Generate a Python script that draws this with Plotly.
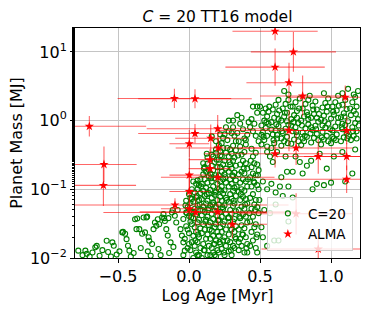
import plotly.graph_objects as go

# ---------------- model points (C=20) ----------------
tail_age = [-0.78, -0.75, -0.73, -0.72, -0.70, -0.68, -0.66, -0.65, -0.63, -0.61,
            -0.58, -0.57, -0.55, -0.54, -0.53, -0.51, -0.49, -0.47, -0.465, -0.45,
            -0.44, -0.43, -0.42, -0.41, -0.39, -0.38, -0.37, -0.365, -0.35, -0.34,
            -0.33, -0.32, -0.31, -0.30, -0.295, -0.29, -0.285, -0.28, -0.27, -0.26,
            -0.25, -0.24, -0.23, -0.22, -0.215, -0.21, -0.20, -0.19, -0.18, -0.175,
            -0.17, -0.16, -0.15, -0.145, -0.14, -0.13, -0.12, -0.115, -0.11, -0.10,
            -0.09, -0.08, -0.06, -0.05, -0.04, -0.03, -0.02, -0.025]
tail_mass = [0.0128, 0.011, 0.0128, 0.0115, 0.0105, 0.012, 0.0143, 0.015, 0.0108, 0.013,
             0.0178, 0.0122, 0.0105, 0.0169, 0.0151, 0.0112, 0.0125, 0.0236, 0.024, 0.0225,
             0.0188, 0.0151, 0.0128, 0.0105, 0.0118, 0.0367, 0.0263, 0.0376, 0.0263, 0.014,
             0.0225, 0.0389, 0.0236, 0.0389, 0.040, 0.0125, 0.020, 0.0178, 0.0108, 0.016,
             0.0263, 0.0329, 0.0294, 0.0367, 0.0135, 0.031, 0.011, 0.0389, 0.0435, 0.038,
             0.0346, 0.0263, 0.0212, 0.038, 0.0118, 0.0169, 0.0459, 0.050, 0.0145, 0.0412,
             0.0329, 0.050, 0.0263, 0.0212, 0.0169, 0.0128, 0.0459, 0.058]

low_age = [-0.04, -0.01, -0.03, 0.0, -0.02, 0.01, -0.04, 0.0, 0.02, -0.01,
           0.01, 0.02, -0.02, 0.0, 0.02, 0.01, 0.02, -0.01, 0.02,
           0.03, 0.05, 0.07, 0.04, 0.06, 0.08, 0.03, 0.05, 0.07, 0.04,
           0.06, 0.08, 0.03, 0.05, 0.07, 0.04, 0.06, 0.08, 0.03, 0.05,
           0.07, 0.04, 0.06, 0.08, 0.05, 0.07, 0.08, 0.06,
           0.09, 0.11, 0.13, 0.10, 0.12, 0.14, 0.09, 0.11, 0.13, 0.10,
           0.12, 0.14, 0.09, 0.11, 0.13, 0.10, 0.12, 0.14, 0.09, 0.11,
           0.13, 0.10, 0.12, 0.14, 0.09, 0.11, 0.13, 0.10, 0.12, 0.14,
           0.11, 0.13, 0.10, 0.125, 0.13,
           0.15, 0.17, 0.19, 0.16, 0.18, 0.20, 0.15, 0.17, 0.19, 0.16,
           0.18, 0.20, 0.15, 0.17, 0.19, 0.16, 0.18, 0.20, 0.15, 0.17,
           0.19, 0.16, 0.18, 0.20, 0.15, 0.17, 0.19, 0.16, 0.18, 0.20,
           0.15, 0.17, 0.19, 0.16, 0.18, 0.20, 0.17, 0.19, 0.16, 0.19,
           0.21, 0.23, 0.25, 0.22, 0.24, 0.26, 0.21, 0.23, 0.25, 0.22,
           0.24, 0.26, 0.21, 0.23, 0.25, 0.22, 0.24, 0.26, 0.21, 0.23,
           0.25, 0.22, 0.24, 0.26, 0.21, 0.23, 0.25, 0.22, 0.24, 0.26,
           0.21, 0.23, 0.25, 0.22, 0.24, 0.26, 0.21, 0.23, 0.25, 0.22,
           0.24, 0.26, 0.23, 0.21,
           0.28, 0.30, 0.32, 0.29, 0.31, 0.33, 0.28, 0.30, 0.32, 0.29,
           0.31, 0.33, 0.28, 0.30, 0.32, 0.29, 0.31, 0.33, 0.28, 0.30,
           0.32, 0.29, 0.31, 0.33, 0.28, 0.30, 0.32, 0.29, 0.31, 0.33,
           0.28, 0.30, 0.32, 0.29, 0.31, 0.33, 0.28, 0.30, 0.32, 0.29,
           0.31, 0.33,
           0.35, 0.37, 0.39, 0.41, 0.36, 0.38, 0.40, 0.35, 0.37, 0.39,
           0.41, 0.36, 0.38, 0.40, 0.35, 0.37, 0.39, 0.41, 0.36, 0.38,
           0.40, 0.35, 0.37, 0.39, 0.41, 0.36, 0.38, 0.40, 0.35, 0.37,
           0.39, 0.41, 0.36, 0.38, 0.40, 0.37, 0.39, 0.36, 0.40,
           0.43, 0.45, 0.47, 0.44, 0.46, 0.48, 0.43, 0.45, 0.47, 0.49,
           0.44, 0.46, 0.48, 0.43, 0.45, 0.47, 0.49, 0.44, 0.46, 0.48,
           0.43, 0.45, 0.47, 0.49, 0.44, 0.46, 0.48, 0.45, 0.47, 0.44]
low_mass = [0.011, 0.014, 0.019, 0.023, 0.029, 0.034, 0.037, 0.041, 0.047, 0.055,
            0.063, 0.072, 0.068, 0.085, 0.10, 0.013, 0.017, 0.026, 0.031,
            0.010, 0.012, 0.011, 0.015, 0.017, 0.014, 0.021, 0.024, 0.020, 0.028,
            0.033, 0.027, 0.038, 0.043, 0.036, 0.052, 0.058, 0.049, 0.066, 0.076,
            0.070, 0.090, 0.10, 0.088, 0.12, 0.115, 0.14, 0.135,
            0.010, 0.013, 0.011, 0.016, 0.019, 0.015, 0.023, 0.026, 0.022, 0.031,
            0.036, 0.030, 0.042, 0.047, 0.040, 0.056, 0.062, 0.053, 0.072, 0.080,
            0.068, 0.095, 0.105, 0.088, 0.12, 0.14, 0.125, 0.165, 0.18, 0.155,
            0.21, 0.235, 0.24, 0.33, 0.29,
            0.011, 0.012, 0.0105, 0.014, 0.016, 0.013, 0.019, 0.021, 0.018, 0.025,
            0.028, 0.024, 0.033, 0.037, 0.031, 0.044, 0.049, 0.041, 0.058, 0.064,
            0.055, 0.075, 0.083, 0.070, 0.098, 0.11, 0.092, 0.13, 0.145, 0.12,
            0.17, 0.19, 0.16, 0.22, 0.25, 0.21, 0.30, 0.34, 0.32, 0.38,
            0.012, 0.0135, 0.011, 0.016, 0.018, 0.015, 0.021, 0.024, 0.020, 0.028,
            0.031, 0.026, 0.036, 0.040, 0.034, 0.047, 0.052, 0.044, 0.060, 0.068,
            0.058, 0.078, 0.087, 0.075, 0.10, 0.11, 0.097, 0.13, 0.14, 0.125,
            0.16, 0.18, 0.165, 0.21, 0.23, 0.20, 0.27, 0.30, 0.26, 0.36,
            0.40, 0.34, 0.47, 0.44,
            0.0125, 0.011, 0.014, 0.017, 0.015, 0.019, 0.022, 0.026, 0.024, 0.030,
            0.034, 0.029, 0.039, 0.044, 0.037, 0.050, 0.057, 0.048, 0.066, 0.073,
            0.062, 0.085, 0.095, 0.080, 0.11, 0.12, 0.105, 0.14, 0.155, 0.135,
            0.18, 0.20, 0.175, 0.23, 0.26, 0.22, 0.30, 0.33, 0.29, 0.38,
            0.43, 0.37,
            0.013, 0.015, 0.012, 0.016, 0.019, 0.022, 0.020, 0.026, 0.030, 0.027,
            0.033, 0.038, 0.043, 0.040, 0.050, 0.056, 0.052, 0.062, 0.070, 0.078,
            0.072, 0.092, 0.10, 0.095, 0.11, 0.125, 0.14, 0.13, 0.165, 0.18,
            0.17, 0.20, 0.23, 0.26, 0.24, 0.32, 0.35, 0.42, 0.45,
            0.015, 0.018, 0.014, 0.024, 0.028, 0.022, 0.034, 0.040, 0.031, 0.045,
            0.052, 0.060, 0.055, 0.075, 0.085, 0.070, 0.10, 0.11, 0.125, 0.115,
            0.15, 0.17, 0.16, 0.19, 0.21, 0.24, 0.23, 0.30, 0.34, 0.39]

low_extra_age = [0.0, 0.015, 0.045, 0.065, 0.035, 0.075, 0.055, 0.085, 0.095, 0.105,
                 0.115, 0.125, 0.135, 0.105, 0.14, 0.145, 0.155, 0.165, 0.175, 0.185,
                 0.195, 0.205, 0.215, 0.225, 0.235, 0.245, 0.255, 0.265, 0.275, 0.285,
                 0.295, 0.305, 0.315, 0.325, 0.335, 0.345, 0.355, 0.365, 0.375, 0.385,
                 0.395, 0.405, 0.415, 0.425, 0.435, 0.455, 0.465, 0.475, 0.485, 0.495,
                 0.03, 0.01, -0.015, 0.06, 0.18, 0.27, 0.35, 0.41, 0.22, 0.27]
low_extra_mass = [0.016, 0.039, 0.018, 0.022, 0.047, 0.060, 0.080, 0.11, 0.050, 0.013,
                  0.034, 0.085, 0.050, 0.20, 0.19, 0.026, 0.145, 0.060, 0.016, 0.090,
                  0.27, 0.035, 0.017, 0.095, 0.055, 0.012, 0.15, 0.070, 0.038, 0.25,
                  0.013, 0.16, 0.068, 0.020, 0.11, 0.31, 0.040, 0.085, 0.022, 0.20,
                  0.060, 0.014, 0.14, 0.045, 0.26, 0.13, 0.050, 0.020, 0.16, 0.070,
                  0.13, 0.075, 0.045, 0.011, 0.011, 0.018, 0.017, 0.012, 0.31, 0.40]

bridge_age = [0.16, 0.19, 0.22, 0.25, 0.24, 0.27, 0.28, 0.30, 0.32, 0.34,
              0.31, 0.28, 0.31, 0.34, 0.36, 0.38, 0.39, 0.41, 0.43, 0.44,
              0.42, 0.45, 0.47, 0.46, 0.48, 0.45, 0.48, 0.50, 0.49, 0.40,
              0.35, 0.26, 0.37, 0.33]
bridge_mass = [0.59, 0.50, 0.63, 0.63, 0.56, 0.52, 0.70, 0.66, 0.60, 0.66,
               0.80, 1.00, 1.00, 1.20, 0.90, 0.75, 0.55, 0.62, 0.80, 1.05,
               0.95, 0.70, 0.60, 0.90, 1.30, 1.60, 1.60, 1.60, 0.50, 0.52,
               0.50, 0.80, 1.10, 0.50]

high_age = [0.51, 0.53, 0.55, 0.52, 0.54, 0.56, 0.51, 0.53, 0.55, 0.52, 0.54, 0.56, 0.51, 0.55,
            0.58, 0.60, 0.62, 0.59, 0.61, 0.63, 0.58, 0.60, 0.62, 0.59, 0.61, 0.63, 0.58, 0.62,
            0.65, 0.67, 0.69, 0.66, 0.68, 0.70, 0.65, 0.67, 0.69, 0.66, 0.68, 0.70, 0.67, 0.65, 0.69,
            0.72, 0.74, 0.76, 0.73, 0.75, 0.77, 0.72, 0.74, 0.76, 0.73, 0.75, 0.77, 0.72, 0.76,
            0.79, 0.81, 0.83, 0.80, 0.82, 0.84, 0.79, 0.81, 0.83, 0.80, 0.82, 0.84, 0.80, 0.84,
            0.86, 0.88, 0.90, 0.87, 0.89, 0.91, 0.86, 0.88, 0.90, 0.87, 0.89, 0.91, 0.86, 0.90,
            0.93, 0.95, 0.97, 0.94, 0.96, 0.98, 0.93, 0.95, 0.97, 0.94, 0.96, 0.98, 0.94, 0.98,
            1.00, 1.02, 1.04, 1.01, 1.03, 1.05, 1.00, 1.02, 1.04, 1.01, 1.03, 1.05, 1.01, 1.05,
            1.07, 1.09, 1.11, 1.08, 1.10, 1.12, 1.07, 1.09, 1.11, 1.08, 1.10, 1.12, 1.08, 1.12,
            1.14, 1.16, 1.18, 1.15, 1.17, 1.19, 1.14, 1.16, 1.18, 1.15, 1.17, 1.19, 1.16, 1.18]
high_mass = [0.45, 0.52, 0.60, 0.68, 0.78, 0.90, 0.85, 1.00, 1.15, 1.30, 1.50, 1.35, 0.62, 0.42,
             0.40, 0.47, 0.55, 0.63, 0.72, 0.83, 0.95, 1.10, 1.25, 1.45, 1.70, 1.05, 0.74, 0.62,
             0.43, 0.50, 0.58, 0.66, 0.76, 0.87, 1.00, 1.15, 1.30, 1.50, 1.75, 2.00, 2.70, 0.55, 0.98,
             0.46, 0.53, 0.61, 0.70, 0.80, 0.92, 1.05, 1.20, 1.38, 1.60, 1.85, 0.50, 0.85, 1.10,
             0.44, 0.50, 0.58, 0.67, 0.77, 0.88, 1.00, 1.15, 1.32, 1.50, 1.75, 2.00, 0.55, 1.05,
             0.48, 0.56, 0.64, 0.73, 0.84, 0.96, 1.10, 1.25, 1.45, 1.65, 1.90, 0.52, 0.80, 1.10,
             0.45, 0.53, 0.60, 0.69, 0.79, 0.90, 1.03, 1.18, 1.35, 1.55, 1.80, 2.10, 0.85, 0.50,
             0.47, 0.55, 0.63, 0.72, 0.82, 0.94, 1.07, 1.22, 1.40, 1.60, 1.85, 2.30, 0.58, 1.10,
             0.50, 0.57, 0.66, 0.75, 0.86, 0.98, 1.12, 1.28, 1.47, 1.70, 2.00, 2.90, 0.90, 0.60,
             0.52, 0.60, 0.70, 0.80, 0.92, 1.05, 1.20, 1.38, 1.60, 1.85, 2.20, 2.70, 2.40, 0.55]

high_extra_age = [0.525, 0.545, 0.565, 0.595, 0.615, 0.635, 0.655, 0.675, 0.695, 0.715,
                  0.735, 0.755, 0.775, 0.795, 0.815, 0.835, 0.855, 0.875, 0.895, 0.915,
                  0.935, 0.955, 0.975, 0.995, 1.015, 1.035, 1.055, 1.075, 1.095, 1.115,
                  1.135, 1.155, 1.175, 1.195, 0.70, 0.85, 0.95, 1.08, 0.78, 0.63]
high_extra_mass = [0.58, 0.95, 1.60, 0.52, 0.88, 1.40, 0.70, 1.30, 0.47, 1.60,
                   0.95, 0.68, 1.50, 0.85, 0.60, 1.20, 0.65, 1.45, 0.75, 1.25,
                   0.57, 0.98, 1.60, 0.75, 1.35, 0.52, 1.65, 0.80, 1.15, 0.55,
                   1.50, 0.70, 1.25, 0.85, 2.40, 2.30, 2.50, 2.50, 2.10, 2.00]

sparse_age = [0.52, 0.55, 0.58, 0.61, 0.64, 0.66, 0.70, 0.73, 0.59, 0.65,
              0.69, 0.80, 0.83, 0.86, 0.87, 0.90, 0.95, 1.00, 1.10, 1.15,
              0.53, 0.57, 0.61, 0.70, 0.48, 0.52, 0.55, 0.60, 0.63, 0.51,
              0.57, 0.62, 0.75, 0.78, 0.92, 1.02, 1.08, 0.97, 0.55, 0.68,
              0.73, 1.17]
sparse_mass = [0.13, 0.10, 0.12, 0.09, 0.11, 0.08, 0.11, 0.18, 0.25, 0.15,
               0.18, 0.17, 0.22, 0.26, 0.10, 0.12, 0.115, 0.125, 0.13, 0.17,
               0.05, 0.045, 0.06, 0.034, 0.012, 0.02, 0.015, 0.018, 0.018, 0.028,
               0.30, 0.35, 0.30, 0.25, 0.33, 0.30, 0.35, 0.20, 0.35, 0.30,
               0.076, 0.38]

# ---------------- ALMA points ----------------
alma_age = [0.606, 0.735, 0.606, 0.704, 0.80, 1.10, -0.103, 0.042, -0.702, 0.042,
            0.153, 0.002, 0.206, -0.599, -0.603, 0.148, 0.148, 0.002, 0.202, 0.002,
            -0.099, 0.002, 0.047, 0.202, 0.202, 0.704, 1.11, 0.754, 0.606, 0.91,
            1.11, 1.11, 0.305, 0.754, 0.91]
alma_mass = [20.0, 10.0, 6.0, 3.56, 2.28, 2.19, 2.1, 2.08, 0.826, 0.648,
             0.553, 0.46, 0.40, 0.23, 0.114, 0.27, 0.20, 0.161, 0.15, 0.093,
             0.059, 0.052, 0.046, 0.047, 0.76, 0.716, 0.716, 0.40, 0.33, 0.30,
             0.30, 0.14, 0.031, 0.044, 0.0135]
alma_age_err = [0.30, 0.30, 0.35, 0.30, 0.30, 0.40, 0.40, 0.40, 0.40, 0.40,
                0.25, 0.14, 0.30, 0.23, 0.23, 0.15, 0.15, 0.14, 0.40, 0.14,
                0.80, 0.20, 0.65, 0.55, 0.50, 0.50, 0.40, 0.40, 0.50, 0.30,
                0.30, 0.60, 0.25, 0.40, 0.40]
alma_mass_err_dex = [0.13, 0.29, 0.27, 0.29, 0.30, 0.17, 0.14, 0.14, 0.15, 0.14,
                     0.20, 0.20, 0.15, 0.26, 0.30, 0.15, 0.15, 0.25, 0.20, 0.20,
                     0.10, 0.15, 0.30, 0.20, 0.20, 0.30, 0.20, 0.25, 0.20, 0.25,
                     0.20, 0.20, 0.20, 0.30, 0.25]

# ---------------- tick labels ----------------
x_ticks = [-0.5, 0.0, 0.5, 1.0]
x_tick_labels = ["\u22120.5", "0.0", "0.5", "1.0"]
y_ticks = [0.01, 0.1, 1, 10]
y_tick_labels = ["10<sup>\u22122</sup>", "10<sup>\u22121</sup>", "10<sup>0</sup>", "10<sup>1</sup>"]

model_age = tail_age + low_age + low_extra_age + bridge_age + high_age + high_extra_age + sparse_age
model_mass = tail_mass + low_mass + low_extra_mass + bridge_mass + high_mass + high_extra_mass + sparse_mass

err_plus = [m * (10 ** d - 1) for m, d in zip(alma_mass, alma_mass_err_dex)]
err_minus = [m * (1 - 10 ** (-d)) for m, d in zip(alma_mass, alma_mass_err_dex)]

FONT = "DejaVu Sans"

fig = go.Figure()
fig.add_trace(go.Scatter(
    x=model_age, y=model_mass, mode="markers", name="C=20",
    marker=dict(symbol="circle-open", size=5, color="green", line=dict(width=1.1)),
))
fig.add_trace(go.Scatter(
    x=alma_age, y=alma_mass, mode="markers", name="ALMA",
    marker=dict(symbol="star", size=7, color="red"),
    error_x=dict(type="data", array=alma_age_err, color="rgba(255,0,0,0.6)",
                 thickness=1.1, width=0),
    error_y=dict(type="data", symmetric=False, array=err_plus, arrayminus=err_minus,
                 color="rgba(255,0,0,0.6)", thickness=1.1, width=0),
))

axis_common = dict(
    showline=True, linecolor="black", linewidth=1, mirror=True,
    showgrid=True, gridcolor="#c4c4c4", gridwidth=1,
    ticks="outside", ticklen=4, tickcolor="black",
    zeroline=False, automargin=False,
    tickfont=dict(family=FONT, size=16, color="black"),
)

fig.update_layout(
    width=374, height=312,
    margin=dict(l=75, r=14, t=28, b=54),
    paper_bgcolor="white", plot_bgcolor="white",
    font=dict(family=FONT, size=16, color="black"),
    title=dict(text="<i>C</i> = 20 TT16 model", x=0.5, xref="paper",
               y=0.948, yanchor="middle", yref="container",
               font=dict(family=FONT, size=15.5, color="black")),
    xaxis=dict(range=[-0.803, 1.204], tickvals=x_ticks, ticktext=x_tick_labels,
               title=dict(text="Log Age [Myr]", standoff=0,
                          font=dict(family=FONT, size=16, color="black")),
               **axis_common),
    yaxis=dict(type="log", range=[-2, 1.348], tickvals=y_ticks, ticktext=y_tick_labels,
               minor=dict(ticks="outside", ticklen=2, tickcolor="black", showgrid=False),
               title=dict(text="Planet Mass [MJ]", standoff=3,
                          font=dict(family=FONT, size=16, color="black")),
               **axis_common),
    legend=dict(x=0.975, y=0.03, xanchor="right", yanchor="bottom",
                bgcolor="rgba(255,255,255,0.8)", bordercolor="#cccccc", borderwidth=1,
                font=dict(family=FONT, size=13.5, color="black"),
                itemwidth=30, tracegroupgap=0),
    showlegend=True,
)

fig.write_html("out.html",
               config={"displayModeBar": False},
               post_script="document.body.style.margin='0';document.body.style.overflow='hidden';")
